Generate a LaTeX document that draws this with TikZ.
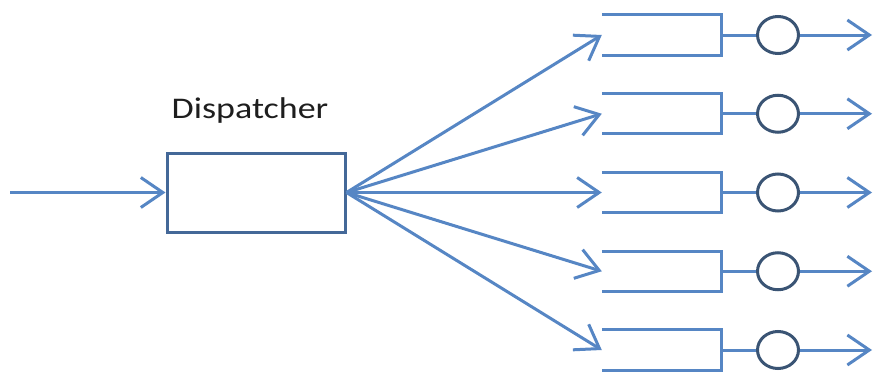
\documentclass[tikz,border=0pt]{standalone}
\usepackage{fontspec}
\setmainfont{Carlito}
\usetikzlibrary{arrows.meta,shapes.geometric}
\definecolor{linec}{RGB}{86,134,196}
\definecolor{boxc}{RGB}{68,104,152}
\definecolor{circc}{RGB}{58,84,116}
\definecolor{txtc}{RGB}{30,30,30}
\tikzset{
  arr/.style={draw=linec, line width=3pt, -{Straight Barb[length=22pt,width=30pt,line width=3pt]}},
  dispbox/.style={draw=boxc, line width=3pt, rectangle, minimum width=178pt, minimum height=79pt, inner sep=0pt},
  qbox/.style={rectangle, minimum width=119pt, minimum height=40pt, inner sep=0pt},
  qline/.style={draw=linec, line width=3pt},
  server/.style={draw=circc, line width=3pt, ellipse, minimum width=41pt, minimum height=37pt, inner sep=0pt},
  lbl/.style={text=txtc, font=\fontsize{30}{34}\selectfont, inner sep=0pt}
}
\begin{document}
\begin{tikzpicture}[x=1pt,y=-1pt]
\useasboundingbox (0,0) rectangle (873,372);
\node[dispbox] (disp) at (256,192.5) {};
\node[lbl, anchor=base, xscale=1.2] (dlabel) at (250,118.5) {Dispatcher};
\coordinate (in) at (10,192.5);
\draw[arr] (in) -- (disp.west);
\foreach \i/\y in {1/35,2/113.75,3/192.5,4/271.25,5/350}{
  \node[qbox] (q\i) at (661.5,\y) {};
  \draw[qline] (q\i.north west) -- (q\i.north east) -- (q\i.south east) -- (q\i.south west);
  \node[server] (c\i) at (778,\y) {};
  \draw[qline] (q\i.east) -- (c\i.west);
  \coordinate (o\i) at (872,\y);
  \draw[arr] (c\i.east) -- (o\i);
  \draw[arr] (disp.east) -- (q\i.west);
}
\end{tikzpicture}
\end{document}
